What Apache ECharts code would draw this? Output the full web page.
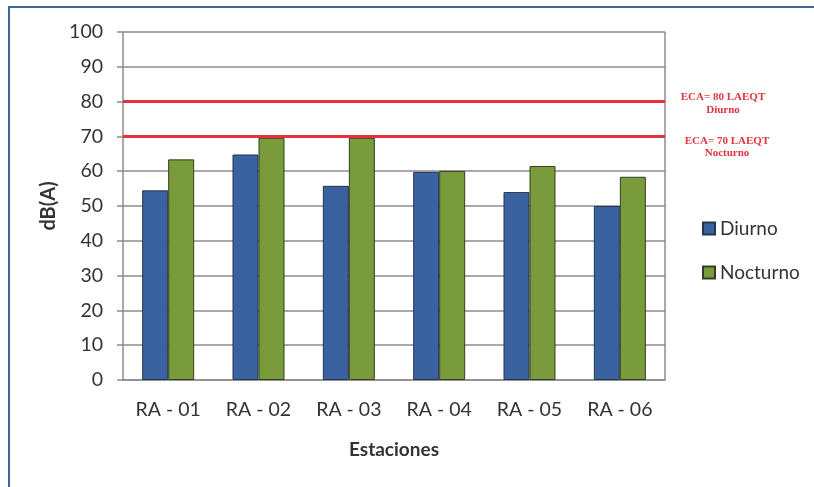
<!DOCTYPE html>
<html>
<head>
<meta charset="utf-8">
<script src="https://cdn.jsdelivr.net/npm/echarts@6/dist/echarts.min.js"></script>
<style>
  html, body { margin: 0; padding: 0; background: #fff; }
  #chart { width: 814px; height: 487px; }
</style>
</head>
<body>
<div id="chart"></div>
<script>
// Noise levels per monitoring station
const stations = ['RA - 01', 'RA - 02', 'RA - 03', 'RA - 04', 'RA - 05', 'RA - 06'];
const diurno   = [54.5, 64.8, 55.8, 59.8, 54.0, 50.0];
const nocturno = [63.4, 69.6, 69.6, 60.1, 61.5, 58.4];

// Environmental quality standards (ECA)
const ecaDiurno = 80;
const ecaNocturno = 70;

const chart = echarts.init(document.getElementById('chart'));
const font = 'Lato, "Open Sans", sans-serif';
const gridColor = '#8c8c8c';
const redFont = 'bold 11px "Liberation Serif", "DejaVu Serif", serif';

chart.setOption({
  animation: false,
  backgroundColor: '#ffffff',
  grid: { left: 123, right: 149, top: 32, bottom: 107 },
  legend: {
    orient: 'vertical',
    left: 697,
    top: 214,
    itemGap: 25,
    itemWidth: 12,
    itemHeight: 12,
    icon: 'rect',
    textStyle: { fontFamily: font, fontSize: 19, color: '#333' },
    data: ['Diurno', 'Nocturno']
  },
  xAxis: {
    type: 'category',
    data: stations,
    name: 'Estaciones',
    nameLocation: 'middle',
    nameGap: 60,
    nameTextStyle: { fontFamily: font, fontSize: 19, fontWeight: 'bold', color: '#333' },
    axisLine: { lineStyle: { color: gridColor, width: 1.5 } },
    axisTick: { show: false },
    axisLabel: { margin: 20, fontFamily: font, fontSize: 19.5, color: '#333' }
  },
  yAxis: {
    type: 'value',
    min: 0,
    max: 100,
    interval: 10,
    name: 'dB(A)',
    nameLocation: 'middle',
    nameGap: 57,
    nameTextStyle: { fontFamily: font, fontSize: 20, fontWeight: 'bold', color: '#333' },
    axisLine: { show: true, lineStyle: { color: gridColor, width: 1.5 } },
    axisTick: { show: true, length: 6, lineStyle: { color: gridColor, width: 1.5 } },
    axisLabel: { margin: 20, fontFamily: font, fontSize: 19.5, color: '#333' },
    splitLine: { lineStyle: { color: gridColor, width: 1.5 } }
  },
  series: [
    {
      name: 'Diurno',
      type: 'bar',
      data: diurno,
      barWidth: 26,
      barGap: '0%',
      itemStyle: { color: '#3b62a0', borderColor: '#26344d', borderWidth: 1 },
      markLine: {
        silent: true,
        symbol: 'none',
        label: { show: false },
        lineStyle: { color: '#e2333f', width: 3, type: 'solid' },
        data: [{ yAxis: ecaDiurno }, { yAxis: ecaNocturno }]
      }
    },
    {
      name: 'Nocturno',
      type: 'bar',
      data: nocturno,
      barWidth: 26,
      itemStyle: { color: '#799b3b', borderColor: '#33401f', borderWidth: 1 }
    }
  ],
  graphic: [
    {
      type: 'rect',
      shape: { x: 9, y: 7, width: 830, height: 500 },
      style: { fill: 'none', stroke: '#3f6595', lineWidth: 2 },
      silent: true
    },
    {
      type: 'line',
      shape: { x1: 665, y1: 32, x2: 665, y2: 380 },
      style: { stroke: gridColor, lineWidth: 1.5 },
      silent: true
    },
    {
      type: 'text', x: 723, y: 104,
      style: { text: 'ECA= 80 LAEQT\nDiurno', fill: '#e0343e', font: redFont, align: 'center', verticalAlign: 'middle', lineHeight: 13 }
    },
    {
      type: 'text', x: 727, y: 147,
      style: { text: 'ECA= 70 LAEQT\nNocturno', fill: '#e0343e', font: redFont, align: 'center', verticalAlign: 'middle', lineHeight: 12 }
    }
  ]
});
</script>
</body>
</html>
